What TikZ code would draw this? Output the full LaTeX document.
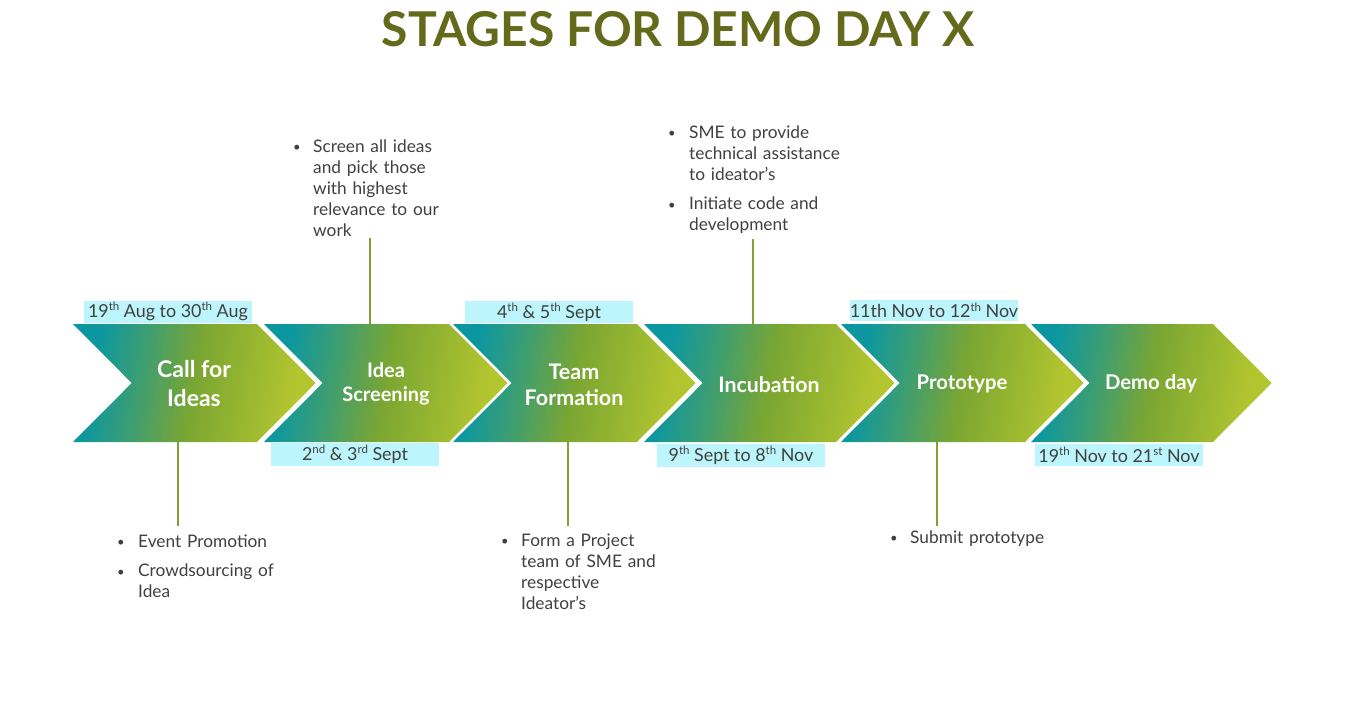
\documentclass[tikz,border=0pt]{standalone}
\usepackage{fontspec}
\setmainfont{Lato}
\definecolor{chteal}{HTML}{0C97A0}
\definecolor{chgreen}{HTML}{3F9E70}
\definecolor{cholive}{HTML}{7AA632}
\definecolor{chlime}{HTML}{B4C62F}
\definecolor{txtgray}{HTML}{404040}
\definecolor{datefill}{HTML}{BCF6FC}
\definecolor{titlecol}{HTML}{636A1B}
\definecolor{linecol}{HTML}{7EA332}
\pgfdeclarehorizontalshading{chevshade}{100bp}{color(0bp)=(chteal); color(27bp)=(chteal); color(38bp)=(chgreen); color(50bp)=(cholive); color(73bp)=(chlime); color(100bp)=(chlime)}
\newlength\bulw
\newcommand\bulglyph{{\fontsize{13}{13}\selectfont\raisebox{0.5pt}{•}}}
\newcommand\bul[1]{\hangindent=\bulw\hangafter=1\noindent\makebox[\bulw][l]{\bulglyph}#1\par}
\newcommand\sups[1]{\raisebox{6.6pt}{\fontsize{11.5}{11.5}\selectfont #1}}
\tikzset{
  chev/.style={shading=chevshade, shading angle=-10, draw=none},
  stage/.style={text=white, align=center, inner sep=0pt, font=\bfseries},
  datebox/.style={fill=datefill, text=txtgray, minimum width=168pt, minimum height=22pt, inner sep=0pt,
    font=\fontsize{17.9}{20}\selectfont},
  blist/.style={text=txtgray, anchor=base west, inner sep=0pt, text width=190pt,
    font=\fontsize{17.3}{21}\selectfont},
  conn/.style={draw=linecol, line width=2pt},
}
\begin{document}
\begin{tikzpicture}[x=1pt,y=-1pt]
\useasboundingbox (0,0) rectangle (1350,709);
% title
\node[text=titlecol, font=\fontsize{48}{55}\selectfont\bfseries, anchor=base, inner sep=0pt] (title) at (678,47) {STAGES FOR DEMO DAY X};
% chevrons
\foreach \L/\R in {73/257, 264/449, 453/637, 644/836, 841/1025, 1031/1213} {
  \path[chev] (\L,324) -- (\R,324) -- ({\R+58.7},383) -- (\R,442) -- (\L,442) -- ({\L+58.7},383) -- cycle;
}
% stage labels
\node[stage, font=\fontsize{23}{29}\selectfont\bfseries] (s1) at (194,384) {Call for\\Ideas};
\node[stage, font=\fontsize{20}{24.5}\selectfont\bfseries] (s2) at (386,384) {Idea\\Screening};
\node[stage, font=\fontsize{21.5}{26}\selectfont\bfseries] (s3) at (574,385) {Team\\Formation};
\node[stage, font=\fontsize{21.3}{26}\selectfont\bfseries] (s4) at (769,385) {Incubation};
\node[stage, font=\fontsize{20.3}{26}\selectfont\bfseries] (s5) at (962,384) {Prototype};
\node[stage, font=\fontsize{20.3}{26}\selectfont\bfseries] (s6) at (1151,384) {Demo day};
% dates
\node[datebox] (d1) at (168,311.5) {19\sups{th} Aug to 30\sups{th} Aug};
\node[datebox, minimum height=23pt] (d2) at (355,454) {2\sups{nd} \& 3\sups{rd} Sept};
\node[datebox] (d3) at (549,312) {4\sups{th} \& 5\sups{th} Sept};
\node[datebox, minimum height=23pt] (d4) at (741,455.5) {9\sups{th} Sept to 8\sups{th} Nov};
\node[datebox, minimum height=21pt] (d5) at (934,310.5) {11th Nov to 12\sups{th} Nov};
\node[datebox] (d6) at (1119,455) {19\sups{th} Nov to 21\sups{st} Nov};
% connector coordinates
\coordinate (a1) at (177.5,442); \coordinate (b1) at (177.5,526);
\coordinate (a2) at (370,324);   \coordinate (b2) at (370,238);
\coordinate (a3) at (568,442);   \coordinate (b3) at (568,526);
\coordinate (a4) at (753,324);   \coordinate (b4) at (753,239);
\coordinate (a5) at (937,442);   \coordinate (b5) at (937,526);
\foreach \i in {1,...,5} { \draw[conn] (a\i) -- (b\i); }
% bullet lists
\node[blist] (l1) at (117,547) {\raggedright\setlength\bulw{21pt}\setlength\parskip{8.5pt}%
\bul{Event Promotion}\bul{Crowdsourcing of\newline Idea}};
\node[blist] (l2) at (293,152) {\raggedright\setlength\bulw{20pt}%
\bul{Screen all ideas\newline and pick those\newline with highest\newline relevance to our\newline work}};
\node[blist] (l3) at (501,546) {\raggedright\setlength\bulw{20pt}%
\bul{Form a Project\newline team of SME and\newline respective\newline Ideator’s}};
\node[blist] (l4) at (668,138) {\raggedright\setlength\bulw{21pt}\setlength\parskip{8.5pt}%
\bul{SME to provide\newline technical assistance\newline to ideator’s}\bul{Initiate code and\newline development}};
\node[blist] (l5) at (890,543) {\raggedright\setlength\bulw{20pt}%
\bul{Submit prototype}};
\end{tikzpicture}
\end{document}
